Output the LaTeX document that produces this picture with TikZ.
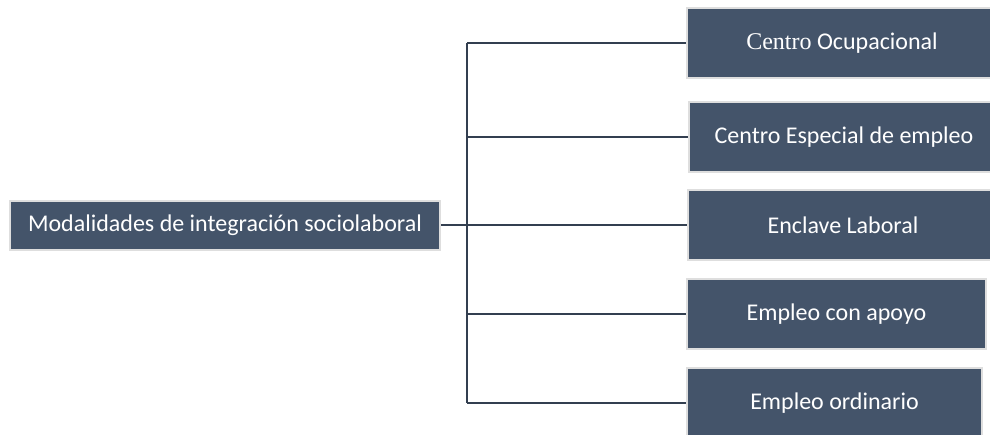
\documentclass[tikz,border=0pt]{standalone}
\usepackage{fontspec}
\setmainfont{Carlito}
\newfontfamily\serifpart{Liberation Serif}
\definecolor{boxfill}{HTML}{44546A}
\definecolor{boxedge}{HTML}{DEDEDE}
\definecolor{linkcol}{HTML}{333F50}
\begin{document}
\begin{tikzpicture}[
    x=1pt,y=-1pt,
    modbox/.style={rectangle, fill=boxfill, draw=boxedge, line width=2pt,
        text=white, font=\fontsize{24}{28}\selectfont, minimum height=70pt, anchor=west},
    link/.style={draw=linkcol, line width=2.6pt}
    ]
\useasboundingbox (0,0) rectangle (990,434);
	\node [modbox, minimum width=430pt, minimum height=49pt] (root) at (9,225) {Modalidades de integración sociolaboral};
	\node [modbox, minimum width=310pt] (centro) at (686,43) {{\serifpart Centro} Ocupacional};
	\node [modbox, minimum width=310pt] (especial) at (688,137) {Centro Especial de empleo};
	\node [modbox, minimum width=310pt] (enclave) at (687,225) {Enclave Laboral};
	\node [modbox, minimum width=299pt] (apoyo) at (686,314) {Empleo con apoyo};
	\node [modbox, minimum width=295pt] (ordinario) at (686,403) {Empleo ordinario};
	\coordinate (trunk) at (467,225);
	\draw [link] (root.east) -- (trunk);
	\draw [link] (trunk |- centro.west) -- (trunk |- ordinario.west);
	\foreach \n in {centro,especial,enclave,apoyo,ordinario}
		\draw [link] (trunk |- \n.west) -- (\n.west);
\end{tikzpicture}
\end{document}
